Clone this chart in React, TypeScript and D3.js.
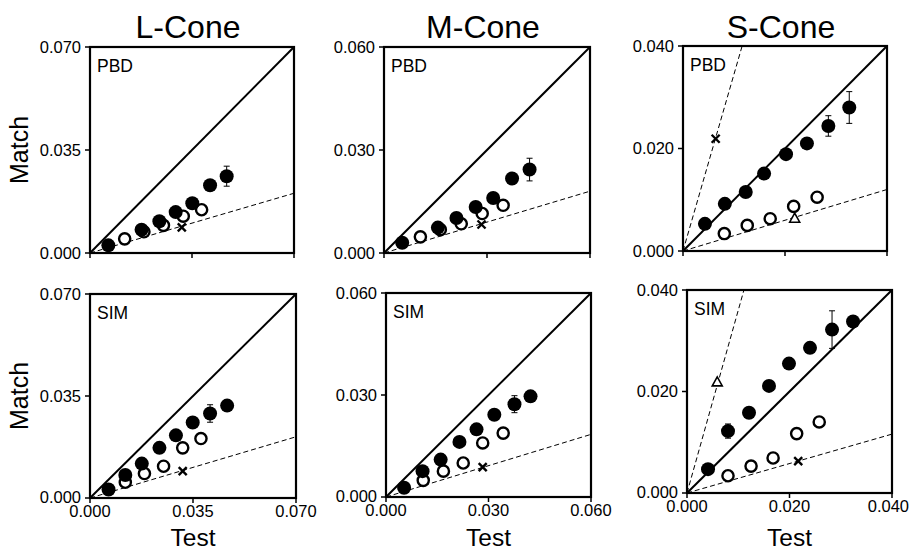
import React from "react";
import * as d3 from "d3";

// ---------- DATA ----------
const coneTitles = ["L-Cone", "M-Cone", "S-Cone"];
const rowLabels = ["PBD", "SIM"];
const axisMax = [0.07, 0.06, 0.04];

// [test, match]
const lPbdFilled = [[0.0063, 0.0026], [0.0177, 0.0079], [0.0238, 0.0108], [0.0294, 0.0139], [0.0351, 0.0169], [0.0412, 0.023], [0.0469, 0.0261]];
const lPbdOpen = [[0.0119, 0.0048], [0.0185, 0.0072], [0.0252, 0.0094], [0.032, 0.0125], [0.0383, 0.0147]];
const lPbdCross = [[0.0315, 0.0087]];
const lPbdTri: number[][] = [];
const lPbdErr = [[0.0469, 0.0261, 0.0034]];

const mPbdFilled = [[0.0053, 0.003], [0.0157, 0.0074], [0.0211, 0.0102], [0.0267, 0.0134], [0.0318, 0.016], [0.0373, 0.0217], [0.0424, 0.0243]];
const mPbdOpen = [[0.0106, 0.0047], [0.0164, 0.0068], [0.0225, 0.0085], [0.0286, 0.0115], [0.0347, 0.0139]];
const mPbdCross = [[0.0284, 0.0083]];
const mPbdTri: number[][] = [];
const mPbdErr = [[0.0424, 0.0243, 0.0033]];

const sPbdFilled = [[0.0043, 0.0053], [0.0082, 0.0092], [0.0123, 0.0115], [0.0159, 0.0151], [0.0202, 0.0189], [0.0243, 0.021], [0.0285, 0.0244], [0.0326, 0.028]];
const sPbdOpen = [[0.0081, 0.0034], [0.0126, 0.005], [0.0171, 0.0063], [0.0217, 0.0087], [0.0263, 0.0105]];
const sPbdCross = [[0.0064, 0.0219]];
const sPbdTri = [[0.0219, 0.0064]];
const sPbdErr = [[0.0285, 0.0244, 0.002], [0.0326, 0.028, 0.0031]];

const lSimFilled = [[0.0063, 0.0029], [0.012, 0.0079], [0.0176, 0.0118], [0.0236, 0.0172], [0.0292, 0.0215], [0.0349, 0.0259], [0.0408, 0.029], [0.0466, 0.0317]];
const lSimOpen = [[0.012, 0.0054], [0.0185, 0.0084], [0.025, 0.0109], [0.0315, 0.0172], [0.0377, 0.0204]];
const lSimCross = [[0.0315, 0.0092]];
const lSimTri: number[][] = [];
const lSimErr = [[0.0408, 0.029, 0.003]];

const mSimFilled = [[0.0053, 0.0027], [0.0107, 0.0076], [0.016, 0.011], [0.0215, 0.0162], [0.0265, 0.0199], [0.0317, 0.0242], [0.0376, 0.0273], [0.0423, 0.0296]];
const mSimOpen = [[0.0109, 0.0049], [0.0168, 0.0076], [0.0226, 0.01], [0.0283, 0.0159], [0.0343, 0.0188]];
const mSimCross = [[0.0283, 0.0088]];
const mSimTri: number[][] = [];
const mSimErr = [[0.0376, 0.0273, 0.0025]];

const sSimFilled = [[0.0041, 0.0047], [0.008, 0.0122], [0.0121, 0.0158], [0.016, 0.0211], [0.0199, 0.0255], [0.024, 0.0286], [0.0283, 0.0322], [0.0324, 0.0338]];
const sSimOpen = [[0.008, 0.0034], [0.0125, 0.0053], [0.0168, 0.0069], [0.0214, 0.0117], [0.0258, 0.014]];
const sSimCross = [[0.0217, 0.0063]];
const sSimTri = [[0.0059, 0.0219]];
const sSimErr = [[0.008, 0.0122, 0.0014], [0.0283, 0.0322, 0.0037]];

// dashed reference slopes (shallow, steep or null)
const shallowSlopes = [[0.29, 0.3, 0.3], [0.3, 0.307, 0.29]];
const steepSlopes = [[null, null, 3.45], [null, null, 3.6]];

const panelData = [
  [
    { filled: lPbdFilled, open: lPbdOpen, cross: lPbdCross, tri: lPbdTri, err: lPbdErr },
    { filled: mPbdFilled, open: mPbdOpen, cross: mPbdCross, tri: mPbdTri, err: mPbdErr },
    { filled: sPbdFilled, open: sPbdOpen, cross: sPbdCross, tri: sPbdTri, err: sPbdErr },
  ],
  [
    { filled: lSimFilled, open: lSimOpen, cross: lSimCross, tri: lSimTri, err: lSimErr },
    { filled: mSimFilled, open: mSimOpen, cross: mSimCross, tri: mSimTri, err: mSimErr },
    { filled: sSimFilled, open: sSimOpen, cross: sSimCross, tri: sSimTri, err: sSimErr },
  ],
];

// ---------- LAYOUT ----------
const W = 911, H = 550;
const FONT = "'Liberation Sans', Arial, Helvetica, sans-serif";
const TICK_FS = 16.5;
const frames = [
  [{ x: 90, y: 47, w: 204, h: 206 }, { x: 384, y: 47, w: 206, h: 206 }, { x: 683, y: 46, w: 204, h: 205 }],
  [{ x: 90, y: 294, w: 206, h: 204 }, { x: 386, y: 293, w: 205, h: 204 }, { x: 687, y: 290, w: 205, h: 203 }],
];

const fmt = d3.format(".3f");

function Panel({ r, c }: { r: number; c: number }) {
  const f = frames[r][c];
  const max = axisMax[c];
  const x = d3.scaleLinear().domain([0, max]).range([f.x, f.x + f.w]);
  const y = d3.scaleLinear().domain([0, max]).range([f.y + f.h, f.y]);
  const d = panelData[r][c];
  const ticks = [0, max / 2, max];
  const sh = shallowSlopes[r][c];
  const st = steepSlopes[r][c];
  const line = d3.line<number[]>().x((p) => x(p[0])).y((p) => y(p[1]));
  const triPath = (cx: number, cy: number) => {
    const s = 5;
    return `M${cx},${cy - s}L${cx + s},${cy + s * 0.8}L${cx - s},${cy + s * 0.8}Z`;
  };
  return (
    <g>
      <path d={line([[0, 0], [max, max]]) || ""} stroke="#000" strokeWidth={2} fill="none" />
      {sh != null && (
        <path d={line([[0, 0], [max, max * sh]]) || ""} stroke="#000" strokeWidth={1} strokeDasharray="5,3" fill="none" />
      )}
      {st != null && (
        <path d={line([[0, 0], [max / st, max]]) || ""} stroke="#000" strokeWidth={1} strokeDasharray="5,3" fill="none" />
      )}
      <rect x={f.x} y={f.y} width={f.w} height={f.h} fill="none" stroke="#000" strokeWidth={2.2} />
      {ticks.map((t, i) => (
        <g key={"yt" + i}>
          <line x1={f.x - 5} x2={f.x} y1={y(t)} y2={y(t)} stroke="#000" strokeWidth={1.5} />
          <text x={f.x - 9} y={y(t) - (i === 0 && r === 1 ? 1 : 0)} dy="0.35em" textAnchor="end" fontSize={TICK_FS} fontFamily={FONT}>
            {fmt(t)}
          </text>
        </g>
      ))}
      {ticks.map((t, i) => {
        const px = x(t);
        const overflow = px + 22 > W - 2;
        return (
          <g key={"xt" + i}>
            <line x1={px} x2={px} y1={f.y + f.h} y2={f.y + f.h + 5} stroke="#000" strokeWidth={1.5} />
            {r === 1 && (
              <text
                x={overflow ? W - 2 : px}
                y={f.y + f.h + 19}
                textAnchor={overflow ? "end" : "middle"}
                fontSize={TICK_FS}
                fontFamily={FONT}
              >
                {fmt(t)}
              </text>
            )}
          </g>
        );
      })}
      <text x={f.x + 7} y={f.y + 25} fontSize={17.5} fontFamily={FONT}>
        {rowLabels[r]}
      </text>
      {d.err.map((e, i) => (
        <g key={"e" + i} stroke="#000" strokeWidth={1}>
          <line x1={x(e[0])} x2={x(e[0])} y1={y(e[1] - e[2])} y2={y(e[1] + e[2])} />
          <line x1={x(e[0]) - 3} x2={x(e[0]) + 3} y1={y(e[1] - e[2])} y2={y(e[1] - e[2])} />
          <line x1={x(e[0]) - 3} x2={x(e[0]) + 3} y1={y(e[1] + e[2])} y2={y(e[1] + e[2])} />
        </g>
      ))}
      {d.open.map((p, i) => (
        <circle key={"o" + i} cx={x(p[0])} cy={y(p[1])} r={5.6} fill="#fff" stroke="#000" strokeWidth={2.4} />
      ))}
      {d.filled.map((p, i) => (
        <circle key={"f" + i} cx={x(p[0])} cy={y(p[1])} r={7} fill="#000" />
      ))}
      {d.cross.map((p, i) => (
        <g key={"x" + i} stroke="#000" strokeWidth={2.4}>
          <line x1={x(p[0]) - 4} x2={x(p[0]) + 4} y1={y(p[1]) - 4} y2={y(p[1]) + 4} />
          <line x1={x(p[0]) - 4} x2={x(p[0]) + 4} y1={y(p[1]) + 4} y2={y(p[1]) - 4} />
        </g>
      ))}
      {d.tri.map((p, i) => (
        <path key={"t" + i} d={triPath(x(p[0]), y(p[1]))} fill="#fff" stroke="#000" strokeWidth={1.6} />
      ))}
    </g>
  );
}

export default function App() {
  return (
    <svg width={W} height={H} style={{ position: "absolute", left: 0, top: 0, background: "#fff" }}>
      <rect width={W} height={H} fill="#fff" />
      {coneTitles.map((t, c) => {
        const f = frames[0][c];
        return (
          <text key={t} x={f.x + f.w / 2 - 4} y={38} textAnchor="middle" fontSize={32} fontFamily={FONT}>
            {t}
          </text>
        );
      })}
      {[0, 1].map((r) => {
        const f = frames[r][0];
        const cy = f.y + f.h / 2;
        return (
          <text key={"m" + r} transform={`translate(28,${cy}) rotate(-90)`} textAnchor="middle" fontSize={25} fontFamily={FONT}>
            Match
          </text>
        );
      })}
      {[0, 1, 2].map((c) => {
        const f = frames[1][c];
        return (
          <text key={"t" + c} x={f.x + f.w / 2} y={546} textAnchor="middle" fontSize={24.5} fontFamily={FONT}>
            Test
          </text>
        );
      })}
      {[0, 1].map((r) => [0, 1, 2].map((c) => <Panel key={r + "-" + c} r={r} c={c} />))}
    </svg>
  );
}
